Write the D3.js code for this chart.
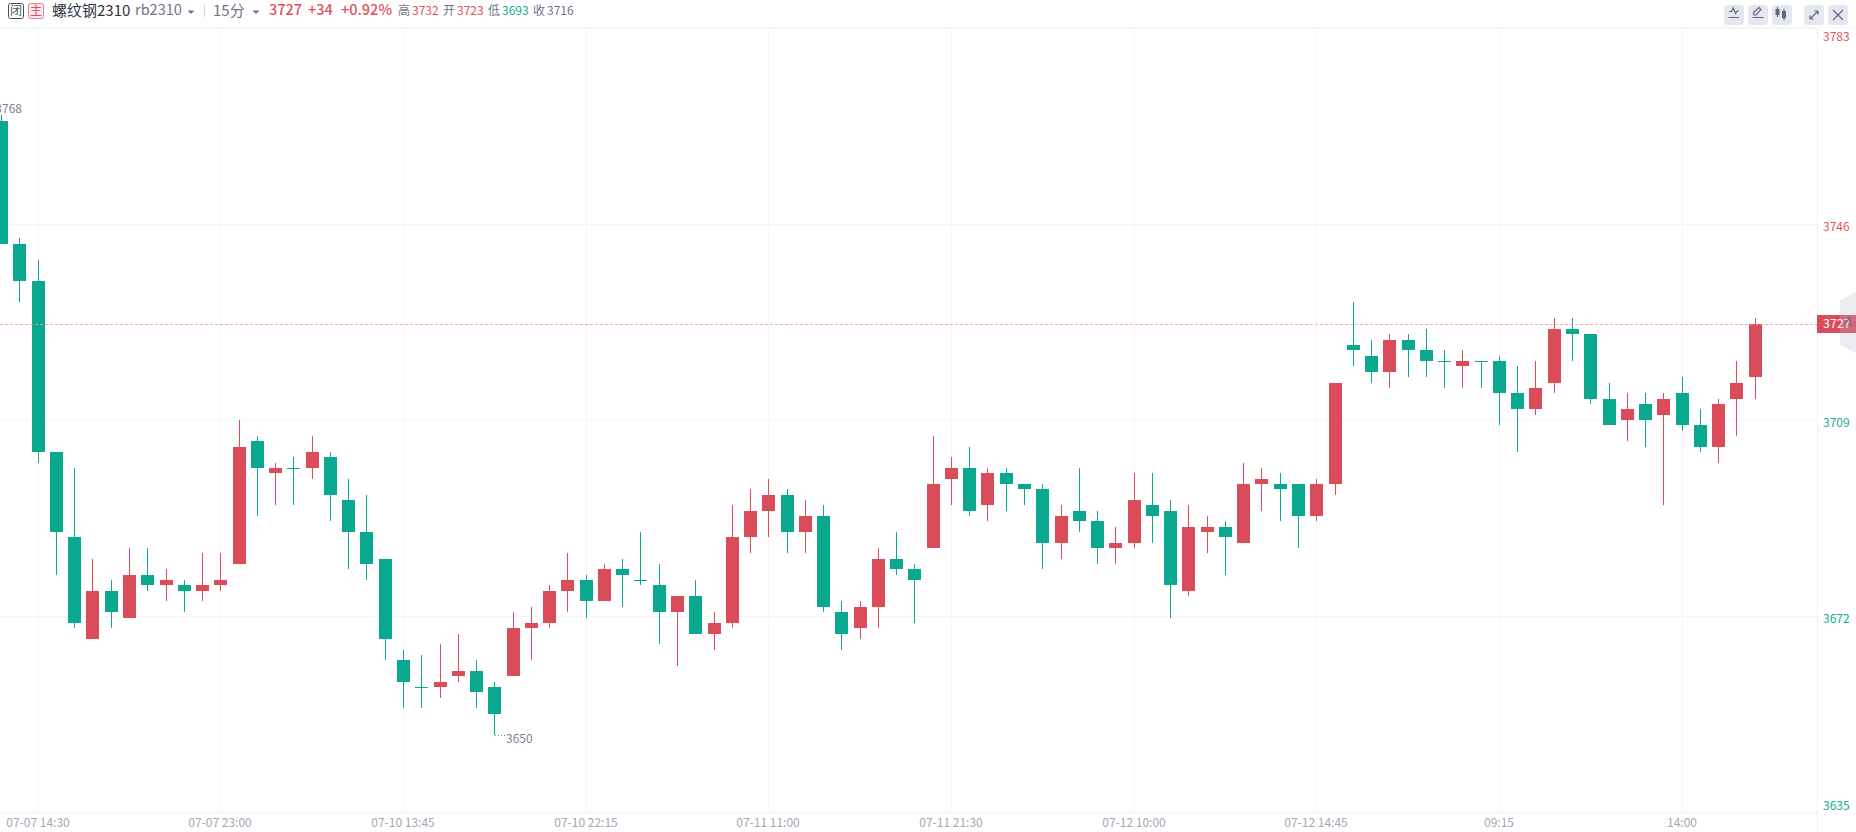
<!DOCTYPE html>
<html>
  <head>
  <meta charset="utf-8">
  <title>螺纹钢2310</title>
  <style>
    body, html {
      margin: 0;
      padding: 0;
      background: #fff;
      overflow: hidden;
    }
    #svg {
      display: block;
      font-family: "Noto Sans CJK SC", "Noto Sans", sans-serif;
    }
  </style>
  </head>
  <body>

  <svg id="svg" width="1856" height="832"></svg>

  <script src="https://d3js.org/d3.v7.min.js"></script>
  <script>
    // 15 minute candles, one entry per bar
    const opens = [3765, 3742, 3735, 3703, 3687, 3668, 3677, 3672, 3680, 3678, 3678, 3677, 3678, 3682, 3705, 3699,
      3700, 3700, 3702, 3694, 3688, 3683, 3664, 3659, 3659, 3661, 3662, 3659, 3661, 3670, 3671, 3677, 3679, 3675,
      3681, 3679, 3678, 3673, 3676, 3669, 3671, 3687, 3692, 3695, 3688, 3691, 3673, 3670, 3674, 3683, 3681, 3685,
      3698, 3700, 3693, 3699, 3697, 3696, 3686, 3692, 3690, 3685, 3686, 3693, 3692, 3677, 3688, 3689, 3686, 3697,
      3697, 3697, 3691, 3697, 3723, 3721, 3718, 3724, 3722, 3720, 3719, 3720, 3720, 3714, 3711, 3716, 3726, 3725,
      3713, 3709, 3712, 3710, 3714, 3708, 3704, 3713, 3717]
    const highs = [3766, 3743, 3739, 3703, 3700, 3683, 3679, 3685, 3685, 3681, 3679, 3684, 3684, 3709, 3706, 3701,
      3702, 3706, 3703, 3698, 3695, 3683, 3666, 3665, 3667, 3669, 3664, 3660, 3673, 3674, 3678, 3684, 3680, 3682,
      3683, 3688, 3682, 3676, 3679, 3673, 3693, 3696, 3698, 3696, 3694, 3693, 3675, 3675, 3685, 3688, 3682, 3706,
      3702, 3704, 3700, 3700, 3697, 3697, 3693, 3700, 3692, 3689, 3699, 3699, 3694, 3693, 3691, 3690, 3701, 3700,
      3699, 3697, 3698, 3716, 3731, 3724, 3725, 3725, 3726, 3722, 3722, 3720, 3721, 3719, 3720, 3728, 3728, 3725,
      3716, 3714, 3714, 3714, 3717, 3711, 3713, 3720, 3728]
    const lows = [3742, 3731, 3701, 3680, 3670, 3668, 3670, 3672, 3677, 3675, 3673, 3675, 3677, 3682, 3691, 3693,
      3693, 3698, 3690, 3681, 3679, 3664, 3655, 3655, 3657, 3660, 3655, 3650, 3661, 3664, 3670, 3673, 3672, 3675,
      3674, 3678, 3667, 3663, 3669, 3666, 3670, 3684, 3687, 3684, 3684, 3673, 3666, 3668, 3670, 3680, 3671, 3685,
      3693, 3691, 3690, 3692, 3693, 3681, 3683, 3688, 3682, 3682, 3685, 3686, 3672, 3676, 3684, 3680, 3686, 3692,
      3690, 3685, 3690, 3695, 3719, 3716, 3715, 3717, 3717, 3715, 3715, 3715, 3708, 3703, 3710, 3714, 3720, 3712,
      3708, 3705, 3704, 3693, 3707, 3703, 3701, 3706, 3713]
    const closes = [3742, 3735, 3703, 3688, 3671, 3677, 3673, 3680, 3678, 3679, 3677, 3678, 3679, 3704, 3700, 3700,
      3700, 3703, 3695, 3688, 3682, 3668, 3660, 3659, 3660, 3662, 3658, 3654, 3670, 3671, 3677, 3679, 3675, 3681,
      3680, 3679, 3673, 3676, 3669, 3671, 3687, 3692, 3695, 3688, 3691, 3674, 3669, 3674, 3683, 3681, 3679, 3697,
      3700, 3692, 3699, 3697, 3696, 3686, 3691, 3690, 3685, 3686, 3694, 3691, 3678, 3689, 3689, 3687, 3697, 3698,
      3696, 3691, 3697, 3716, 3722, 3718, 3724, 3722, 3720, 3720, 3720, 3720, 3714, 3711, 3715, 3726, 3725, 3713,
      3708, 3711, 3709, 3713, 3708, 3704, 3712, 3716, 3727]

    const timeIndexes = [2, 12, 22, 32, 42, 52, 62, 72, 82, 92]
    const timeLabels = ['07-07 14:30', '07-07 23:00', '07-10 13:45', '07-10 22:15', '07-11 11:00',
      '07-11 21:30', '07-12 10:00', '07-12 14:45', '09:15', '14:00']

    const priceTicks = [3782.4, 3745.7, 3708.9, 3672.2, 3635.6]
    const priceLabels = ['3783', '3746', '3709', '3672', '3635']

    const lastPrice = 3727

    const headerItems = [
      ['螺纹钢2310', 52, 15, '#2f3342'],
      ['rb2310', 135, 14.5, '#6f7488'],
      ['15分', 213, 15, '#6f7488'],
      ['3727', 269, 14.5, '#df4f5d', 500],
      ['+34', 308, 14.5, '#df4f5d', 500],
      ['+0.92%', 341, 14.5, '#df4f5d', 500],
      ['高', 398, 12, '#6f7488'],
      ['3732', 412, 12, '#df4f5d'],
      ['开', 443, 12, '#6f7488'],
      ['3723', 457, 12, '#df4f5d'],
      ['低', 488, 12, '#6f7488'],
      ['3693', 502, 12, '#12ad92'],
      ['收', 533, 12, '#6f7488'],
      ['3716', 547, 12, '#6f7488']
    ]

    const red = '#db4c5a'
    const green = '#0aa88e'
    const gridColor = '#f5f6fa'

    const svg = d3.select('#svg')

    const candles = opens.map((o, i) => ({ i, o, h: highs[i], l: lows[i], c: closes[i] }))

    // floor so every wick sits on a whole pixel column
    const xscale = d3.scaleLinear()
      .domain([2, 96])
      .range([38.17, 1755.17])
      .interpolate((a, b) => t => Math.floor(a + (b - a) * t))

    const yscale = d3.scaleLinear()
      .domain([3635.6, 3782.4])
      .range([811.9, 27.9])
      .interpolate(d3.interpolateRound)

    const plotRight = 1817
    const plotBottom = 813
    const plotTop = 28

    // grid + labels come from the axes
    const bottomAxis = d3.axisBottom(xscale)
      .tickValues(timeIndexes)
      .tickFormat((d, i) => timeLabels[i])
      .tickSizeInner(-(plotBottom - plotTop))
      .tickSizeOuter(0)
      .tickPadding(4)

    const rightAxis = d3.axisRight(yscale)
      .tickValues(priceTicks)
      .tickFormat((d, i) => priceLabels[i])
      .tickSize(0)
      .tickPadding(6)

    const xAxisG = svg.append('g')
      .attr('transform', `translate(0, ${plotBottom})`)
      .call(bottomAxis)
    xAxisG.select('.domain').remove()
    xAxisG.selectAll('line').attr('stroke', gridColor)
    xAxisG.selectAll('text')
      .attr('y', 0)
      .attr('dx', '-0.5px')
      .attr('dy', '10.5px')
      .attr('dominant-baseline', 'middle')
      .attr('font-size', 12)
      .attr('font-family', '"Noto Sans CJK SC"')
      .attr('fill', '#a3a6b4')

    const yAxisG = svg.append('g')
      .attr('transform', `translate(${plotRight}, 0)`)
      .call(rightAxis)
    yAxisG.select('.domain').remove()
    yAxisG.selectAll('.tick').append('line')
      .attr('class', 'grid')
      .attr('x1', -plotRight)
      .attr('x2', 0)
      .attr('stroke', gridColor)
    yAxisG.selectAll('text')
      .attr('font-size', 12)
      .attr('font-family', '"Noto Sans CJK SC"')
      .attr('fill', (d, i) => i < 2 ? '#e5535f' : '#14ab90')
      .attr('dy', null)
      .attr('dominant-baseline', 'middle')
      .attr('y', (d, i) => i === 0 ? 9 : i === 4 ? -6 : 3.5)

    // header band + edges
    svg.append('line').attr('x1', 0).attr('x2', 1856).attr('y1', 27.5).attr('y2', 27.5).attr('stroke', gridColor)
    svg.append('line').attr('x1', 0).attr('x2', plotRight).attr('y1', plotBottom + 0.5).attr('y2', plotBottom + 0.5).attr('stroke', gridColor)
    svg.append('line').attr('x1', plotRight + 0.5).attr('x2', plotRight + 0.5).attr('y1', 28).attr('y2', 832).attr('stroke', '#eff0f4')

    // candles
    const barGroup = svg.append('g')
    barGroup.selectAll('line')
      .data(candles)
      .enter()
      .append('line')
      .attr('x1', d => xscale(d.i) + 0.5)
      .attr('x2', d => xscale(d.i) + 0.5)
      .attr('y1', d => yscale(d.h))
      .attr('y2', d => yscale(d.l))
      .attr('stroke', d => d.c > d.o ? red : green)
      .attr('stroke-width', 1)

    barGroup.selectAll('rect')
      .data(candles)
      .enter()
      .append('rect')
      .attr('x', d => xscale(d.i) - 6)
      .attr('y', d => yscale(Math.max(d.o, d.c)))
      .attr('width', 13)
      .attr('height', d => Math.max(1, yscale(Math.min(d.o, d.c)) - yscale(Math.max(d.o, d.c))))
      .attr('fill', d => d.c > d.o ? red : green)

    // last price line and tag
    svg.append('line')
      .attr('x1', 0)
      .attr('x2', plotRight)
      .attr('y1', yscale(lastPrice) + 0.5)
      .attr('y2', yscale(lastPrice) + 0.5)
      .attr('stroke', '#f4929c')
      .attr('stroke-opacity', 0.8)
      .attr('stroke-dasharray', '3 2')

    svg.append('rect')
      .attr('x', plotRight)
      .attr('y', yscale(lastPrice) - 9)
      .attr('width', 39)
      .attr('height', 18)
      .attr('fill', red)
    svg.append('text')
      .attr('x', plotRight + 6)
      .attr('y', yscale(lastPrice) + 1)
      .attr('dominant-baseline', 'middle')
      .attr('font-size', 12.5)
      .attr('fill', '#fff')
      .text(lastPrice)

    // side handle sits over the tag
    svg.append('path')
      .attr('d', 'M1856,292 L1840,300 L1840,345 L1856,353 Z')
      .attr('fill', '#b9bcc6')
      .attr('fill-opacity', 0.27)
    svg.append('path')
      .attr('d', 'M1851,317 L1845,323 M1849,317 L1851,326')
      .attr('fill', 'none')
      .attr('stroke', '#6c7188')
      .attr('stroke-width', 1.3)

    // extreme labels
    svg.append('text')
      .attr('x', 22)
      .attr('y', 109.5)
      .attr('text-anchor', 'end')
      .attr('dominant-baseline', 'middle')
      .attr('font-size', 12)
      .attr('fill', '#7d8194')
      .text('3768')

    svg.append('line')
      .attr('x1', xscale(27) + 1)
      .attr('x2', xscale(27) + 11)
      .attr('y1', yscale(3650) + 0.5)
      .attr('y2', yscale(3650) + 0.5)
      .attr('stroke', '#7d8194')
      .attr('stroke-dasharray', '1 2')
    svg.append('text')
      .attr('x', xscale(27) + 12)
      .attr('y', yscale(3650) + 4.5)
      .attr('dominant-baseline', 'middle')
      .attr('font-size', 12)
      .attr('fill', '#7d8194')
      .text('3650')

    // top bar
    const header = svg.append('g')
    header.append('rect').attr('x', 8.5).attr('y', 3.5).attr('width', 15).attr('height', 15).attr('rx', 2)
      .attr('fill', '#fff').attr('stroke', '#4b4f5c')
    header.append('text').attr('x', 16).attr('y', 12).attr('text-anchor', 'middle').attr('dominant-baseline', 'middle')
      .attr('font-size', 12).attr('fill', '#4b4f5c').text('闭')
    header.append('rect').attr('x', 28.5).attr('y', 3.5).attr('width', 15).attr('height', 15).attr('rx', 2)
      .attr('fill', '#fdebed').attr('stroke', '#ec7f8a')
    header.append('text').attr('x', 36).attr('y', 12).attr('text-anchor', 'middle').attr('dominant-baseline', 'middle')
      .attr('font-size', 12).attr('fill', '#df4f5d').text('主')

    header.selectAll('text.item')
      .data(headerItems)
      .enter()
      .append('text')
      .attr('class', 'item')
      .attr('x', d => d[1])
      .attr('y', 11.5)
      .attr('dominant-baseline', 'middle')
      .attr('font-size', d => d[2])
      .attr('fill', d => d[3])
      .attr('font-weight', d => d[4] || 400)
      .text(d => d[0])

    header.append('path').attr('d', 'M187.5,10.5 h7 l-3.5,3.5 z').attr('fill', '#6f7488')
    header.append('path').attr('d', 'M252.5,10.5 h7 l-3.5,3.5 z').attr('fill', '#6f7488')
    header.append('line').attr('x1', 204.5).attr('x2', 204.5).attr('y1', 5).attr('y2', 17).attr('stroke', '#d5d7df')

    const buttons = [
      [1724, 'M1729,11.5 L1731.5,11.5 L1733,8 L1735.5,13.5 L1737,11 L1739,11 M1728.5,17.5 L1739,17.5'],
      [1748, 'M1754,15 L1753.5,12.5 L1759,7.5 L1761,9.5 L1756,15 Z M1752.5,17.5 L1763.5,17.5'],
      [1772, 'M1777.5,7 v10 M1784,9 v11'],
      [1804, 'M1810,19 L1818,11 M1810,19 v-3.5 M1810,19 h3.5 M1818,11 v3.5 M1818,11 h-3.5'],
      [1828, 'M1833,10 L1843,20 M1843,10 L1833,20']
    ]
    const iconGroup = svg.append('g')
    iconGroup.selectAll('rect')
      .data(buttons)
      .enter()
      .append('rect')
      .attr('x', d => d[0])
      .attr('y', 5)
      .attr('width', 20)
      .attr('height', 20)
      .attr('rx', 4)
      .attr('fill', '#e4e7ef')
    iconGroup.selectAll('path')
      .data(buttons)
      .enter()
      .append('path')
      .attr('d', d => d[1])
      .attr('fill', 'none')
      .attr('stroke', '#62677d')
      .attr('stroke-width', 1.2)
    iconGroup.append('rect').attr('x', 1775.5).attr('y', 9).attr('width', 4).attr('height', 6).attr('fill', '#62677d')
    iconGroup.append('rect').attr('x', 1782).attr('y', 11).attr('width', 4).attr('height', 7).attr('fill', '#62677d')
  </script>
  </body>
</html>
